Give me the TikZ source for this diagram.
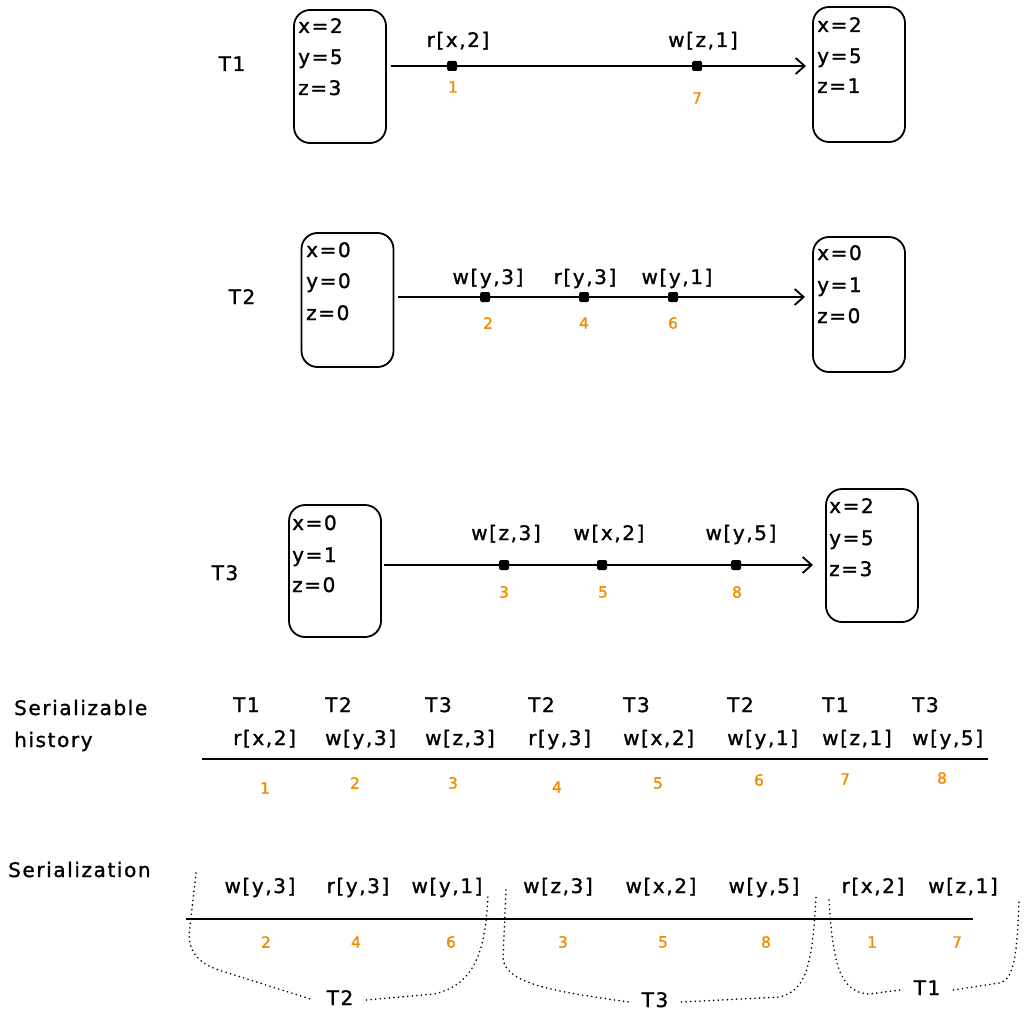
\documentclass[tikz,border=0pt]{standalone}
\usepackage{fontspec}
\setmainfont[LetterSpace=8,FakeBold=1.2]{DejaVu Sans}
\usetikzlibrary{arrows.meta}
\definecolor{orng}{RGB}{240,140,0}
\begin{document}
\begin{tikzpicture}[x=1pt,y=-1pt,
 box/.style={draw,line width=1.8pt,rounded corners=16pt,inner sep=0pt,minimum width=92pt},
 txt/.style={font=\fontsize{20}{24}\selectfont,inner sep=0pt,text height=14pt,text depth=4pt},
 num/.style={font=\fontsize{15.5}{18}\selectfont,text=orng,inner sep=0pt},
 evt/.style={fill=black,rounded corners=1.5pt,minimum size=10pt,inner sep=0pt},
 arr/.style={line width=1.8pt,-{Straight Barb[length=9pt,width=16pt,line width=1.8pt]}},
 axis/.style={line width=2.6pt},
 glab/.style={txt,inner xsep=13pt},
 brk/.style={line width=1.8pt,line cap=round,dash pattern=on 0pt off 4.6pt}]
\fill[white] (0,0) rectangle (1024,1024);
\useasboundingbox (0,0) rectangle (1024,1024);

% ---------- T1 ----------
\node[txt] (t1) at (232,66) {T1};
\node[box,minimum height=133pt] (b1a) at (340,76.5) {};
\node[txt,anchor=west] (b1a1) at (298,28) {x=2};
\node[txt,anchor=west] (b1a2) at (298,59) {y=5};
\node[txt,anchor=west] (b1a3) at (298,90) {z=3};
\node[box,minimum height=135pt] (b1b) at (859,74.5) {};
\node[txt,anchor=west] (b1b1) at (817,27) {x=2};
\node[txt,anchor=west] (b1b2) at (817,58) {y=5};
\node[txt,anchor=west] (b1b3) at (817,88) {z=1};
\coordinate (a1s) at (391,66);
\coordinate (a1e) at (806,66);
\draw[arr] (a1s) -- (a1e);
\node[evt] (e1) at (452,66) {};
\node[txt] (l1) at (458,42) {r[x,2]};
\node[num] (n1) at (453,87) {1};
\node[evt] (e7) at (697,66) {};
\node[txt] (l7) at (703,42) {w[z,1]};
\node[num] (n7) at (697,98) {7};

% ---------- T2 ----------
\node[txt] (t2) at (242,299) {T2};
\node[box,minimum height=134pt] (b2a) at (347.5,300) {};
\node[txt,anchor=west] (b2a1) at (306,252) {x=0};
\node[txt,anchor=west] (b2a2) at (306,283) {y=0};
\node[txt,anchor=west] (b2a3) at (306,315) {z=0};
\node[box,minimum height=135pt] (b2b) at (859,304.5) {};
\node[txt,anchor=west] (b2b1) at (817,255) {x=0};
\node[txt,anchor=west] (b2b2) at (817,287) {y=1};
\node[txt,anchor=west] (b2b3) at (817,318) {z=0};
\coordinate (a2s) at (398,297);
\coordinate (a2e) at (805,297);
\draw[arr] (a2s) -- (a2e);
\node[evt] (e2) at (485,297) {};
\node[txt] (l2) at (488,279) {w[y,3]};
\node[num] (n2) at (488,323) {2};
\node[evt] (e4) at (584,297) {};
\node[txt] (l4) at (585,279) {r[y,3]};
\node[num] (n4) at (584,323) {4};
\node[evt] (e6) at (673,297) {};
\node[txt] (l6) at (677,279) {w[y,1]};
\node[num] (n6) at (673,323) {6};

% ---------- T3 ----------
\node[txt] (t3) at (225,575) {T3};
\node[box,minimum height=132pt] (b3a) at (335,571) {};
\node[txt,anchor=west] (b3a1) at (292,525) {x=0};
\node[txt,anchor=west] (b3a2) at (292,557) {y=1};
\node[txt,anchor=west] (b3a3) at (292,587) {z=0};
\node[box,minimum height=133pt] (b3b) at (872,555.5) {};
\node[txt,anchor=west] (b3b1) at (829,508) {x=2};
\node[txt,anchor=west] (b3b2) at (829,540) {y=5};
\node[txt,anchor=west] (b3b3) at (829,571) {z=3};
\coordinate (a3s) at (384,565);
\coordinate (a3e) at (813,565);
\draw[arr] (a3s) -- (a3e);
\node[evt] (e3) at (504,565) {};
\node[txt] (l3) at (506,535) {w[z,3]};
\node[num] (n3) at (504,592) {3};
\node[evt] (e5) at (602,565) {};
\node[txt] (l5) at (609,535) {w[x,2]};
\node[num] (n5) at (603,592) {5};
\node[evt] (e8) at (736,565) {};
\node[txt] (l8) at (741,535) {w[y,5]};
\node[num] (n8) at (737,592) {8};

% ---------- Serializable history ----------
\node[txt,anchor=west] (sh1) at (14,710) {Serializable};
\node[txt,anchor=west] (sh2) at (14,742) {history};
\coordinate (hs) at (202,759);
\coordinate (he) at (988,759);
\draw[axis] (hs) -- (he);
\node[txt,anchor=west] (ht1) at (233,707) {T1};
\node[txt,anchor=west] (ho1) at (233,740) {r[x,2]};
\node[txt,anchor=west] (ht2) at (325,707) {T2};
\node[txt,anchor=west] (ho2) at (325,740) {w[y,3]};
\node[txt,anchor=west] (ht3) at (425,707) {T3};
\node[txt,anchor=west] (ho3) at (425,740) {w[z,3]};
\node[txt,anchor=west] (ht4) at (528,707) {T2};
\node[txt,anchor=west] (ho4) at (528,740) {r[y,3]};
\node[txt,anchor=west] (ht5) at (623,707) {T3};
\node[txt,anchor=west] (ho5) at (623,740) {w[x,2]};
\node[txt,anchor=west] (ht6) at (727,707) {T2};
\node[txt,anchor=west] (ho6) at (727,740) {w[y,1]};
\node[txt,anchor=west] (ht7) at (822,707) {T1};
\node[txt,anchor=west] (ho7) at (822,740) {w[z,1]};
\node[txt,anchor=west] (ht8) at (912,707) {T3};
\node[txt,anchor=west] (ho8) at (912,740) {w[y,5]};
\node[num] (hn1) at (265,788) {1};
\node[num] (hn2) at (355,783) {2};
\node[num] (hn3) at (453,783) {3};
\node[num] (hn4) at (557,787) {4};
\node[num] (hn5) at (658,783) {5};
\node[num] (hn6) at (759,780) {6};
\node[num] (hn7) at (845,779) {7};
\node[num] (hn8) at (942,778) {8};

% ---------- Serialization ----------
\node[txt,anchor=west] (sz) at (8,872) {Serialization};
\coordinate (ss) at (186,919);
\coordinate (se) at (973,919);
\draw[axis] (ss) -- (se);
\node[txt] (so1) at (260,888) {w[y,3]};
\node[txt] (so2) at (358,888) {r[y,3]};
\node[txt] (so3) at (447,888) {w[y,1]};
\node[txt] (so4) at (558,888) {w[z,3]};
\node[txt] (so5) at (661,888) {w[x,2]};
\node[txt] (so6) at (764,888) {w[y,5]};
\node[txt] (so7) at (873,888) {r[x,2]};
\node[txt] (so8) at (963,888) {w[z,1]};
\node[num] (sn1) at (266,942) {2};
\node[num] (sn2) at (356,942) {4};
\node[num] (sn3) at (451,942) {6};
\node[num] (sn4) at (563,942) {3};
\node[num] (sn5) at (663,942) {5};
\node[num] (sn6) at (766,942) {8};
\node[num] (sn7) at (872,942) {1};
\node[num] (sn8) at (957,942) {7};

% brackets
\node[glab] (g2) at (340,1000) {T2};
\node[glab] (g3) at (655,1002) {T3};
\node[glab] (g1) at (927,990) {T1};
\coordinate (g2a) at (196,873);
\coordinate (g2b) at (488,893);
\coordinate (g3a) at (506,890);
\coordinate (g3b) at (816,897);
\coordinate (g1a) at (829,900);
\coordinate (g1b) at (1019,900);
\draw[brk] (g2a) -- (189,935) .. controls (190,958) and (205,966) .. (225,972) -- (g2.west);
\draw[brk] (g2.east) -- (434,994) .. controls (475,985) and (486,950) .. (g2b);
\draw[brk] (g3a) -- (503,958) .. controls (505,985) and (560,992) .. (g3.west);
\draw[brk] (g3.east) -- (780,997) .. controls (805,990) and (812,970) .. (g3b);
\draw[brk] (g1a) .. controls (833,960) and (838,992) .. (869,994) -- (g1.west);
\draw[brk] (g1.east) -- (999,983) .. controls (1012,980) and (1017,965) .. (g1b);
\end{tikzpicture}
\end{document}
